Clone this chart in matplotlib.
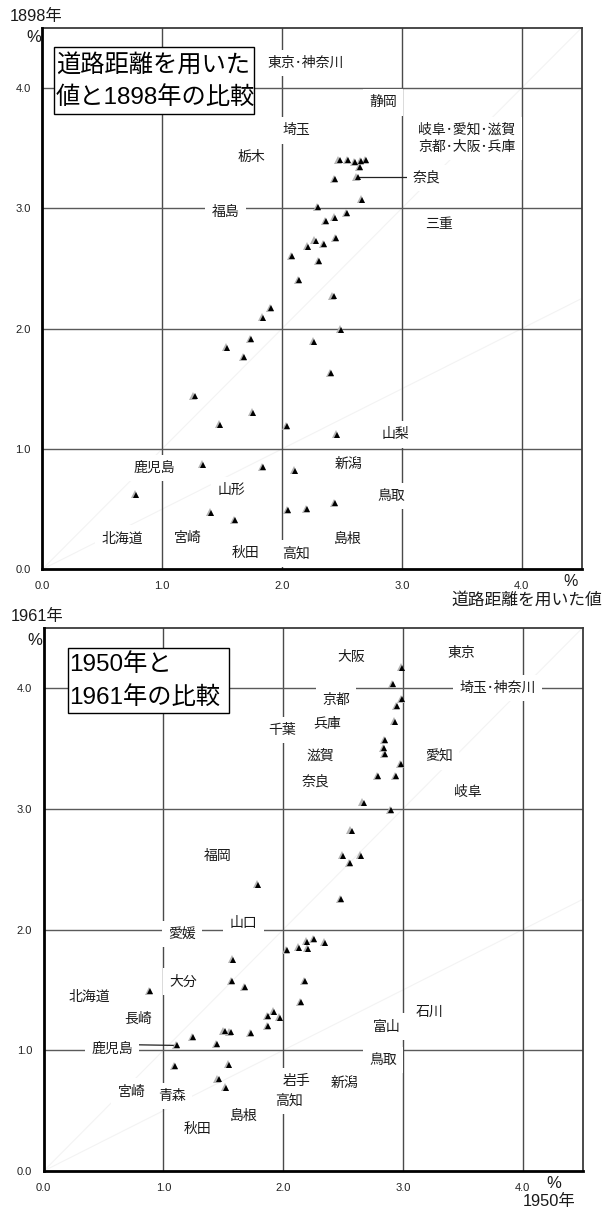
import matplotlib
matplotlib.use("Agg")
import matplotlib.pyplot as plt
from matplotlib import transforms
from matplotlib.patches import Rectangle

plt.rcParams['font.family'] = ['Liberation Sans', 'Noto Sans CJK JP']

# ---- data: 1898 comparison (x: road-distance based share, y: 1898 share, %) ----
road_x = [2.48, 2.55, 2.61, 2.66, 2.70, 2.65, 2.44, 2.63, 2.67, 2.30,
          2.54, 2.44, 2.37, 2.45, 2.28, 2.35, 2.22, 2.08, 2.31, 2.14,
          2.43, 1.91, 1.84, 2.49, 1.74, 2.27, 1.54, 1.68, 2.41, 1.27,
          1.76, 1.48, 2.04, 2.46, 1.34, 1.84, 2.11, 0.78, 1.41, 2.05,
          2.21, 2.44, 1.61]
y1898 = [3.40, 3.40, 3.38, 3.39, 3.40, 3.34, 3.24, 3.26, 3.07, 3.01,
         2.96, 2.92, 2.89, 2.75, 2.73, 2.70, 2.68, 2.60, 2.56, 2.40,
         2.27, 2.17, 2.09, 1.99, 1.91, 1.89, 1.84, 1.76, 1.63, 1.44,
         1.30, 1.20, 1.19, 1.12, 0.87, 0.85, 0.82, 0.62, 0.47, 0.49,
         0.50, 0.55, 0.41]

# ---- data: 1950 vs 1961 (%) ----
y1950 = [2.99, 2.92, 2.99, 2.95, 2.93, 2.85, 2.84, 2.85, 2.98, 2.79,
         2.94, 2.67, 2.90, 2.57, 2.50, 2.65, 2.56, 2.48, 1.79, 2.03,
         2.13, 2.20, 2.21, 2.26, 2.35, 1.58, 1.57, 1.68, 0.89, 2.18,
         2.15, 1.92, 1.87, 1.97, 1.87, 1.25, 1.51, 1.56, 1.73, 1.11,
         1.45, 1.10, 1.55, 1.46, 1.52]
y1961 = [4.17, 4.03, 3.91, 3.85, 3.72, 3.57, 3.50, 3.45, 3.37, 3.27,
         3.27, 3.05, 2.99, 2.82, 2.61, 2.61, 2.55, 2.25, 2.37, 1.83,
         1.85, 1.90, 1.84, 1.92, 1.89, 1.75, 1.57, 1.52, 1.49, 1.57,
         1.40, 1.32, 1.28, 1.27, 1.20, 1.11, 1.16, 1.15, 1.14, 1.04,
         1.05, 0.87, 0.88, 0.76, 0.69]

tick_values = [0, 1, 2, 3, 4]
tick_labels = ['0.0', '1.0', '2.0', '3.0', '4.0']

# prefecture names
top_names = ['東京･神奈川', '静岡', '岐阜･愛知･滋賀\n京都･大阪･兵庫', '埼玉', '栃木',
             '福島', '奈良', '三重', '山梨', '新潟', '鳥取', '島根', '高知', '秋田',
             '宮崎', '北海道', '山形', '鹿児島']
bot_names = ['大阪', '東京', '埼玉･神奈川', '京都', '兵庫', '千葉', '滋賀', '奈良',
             '愛知', '岐阜', '福岡', '山口', '愛媛', '大分', '北海道', '長崎', '鹿児島',
             '宮崎', '青森', '秋田', '島根', '岩手', '高知', '新潟', '富山', '石川', '鳥取']

# label anchor positions (axis units)
top_label_pos = [(2.195, 4.205), (2.842, 3.88), (3.542, 3.582), (2.124, 3.647),
                 (1.741, 3.427), (1.528, 2.968), (3.208, 3.252), (3.309, 2.866),
                 (2.950, 1.121), (2.554, 0.875), (2.908, 0.607), (2.545, 0.249),
                 (2.116, 0.133), (1.699, 0.138), (1.215, 0.262), (0.665, 0.257),
                 (1.578, 0.659), (0.932, 0.841)]
bot_label_pos = [(2.565, 4.259), (3.483, 4.292), (3.792, 4.002), (2.440, 3.902),
                 (2.365, 3.703), (1.989, 3.654), (2.306, 3.441), (2.273, 3.225),
                 (3.300, 3.428), (3.542, 3.138), (1.455, 2.610), (1.669, 2.052),
                 (1.154, 1.961), (1.163, 1.568), (0.378, 1.439), (0.787, 1.259),
                 (0.570, 1.008), (0.733, 0.657), (1.071, 0.621), (1.284, 0.345),
                 (1.672, 0.458), (2.112, 0.746), (2.048, 0.580), (2.515, 0.732),
                 (2.866, 1.196), (3.225, 1.315), (2.832, 0.920)]

W, H = 609, 1209
fig = plt.figure(figsize=(W / 100, H / 100), dpi=100)
fig.patch.set_facecolor('white')

TXT = '#1a1a1a'
JP = ['Liberation Sans', 'Noto Sans CJK JP']


def px_axes(left, top, right, bottom):
    return fig.add_axes([left / W, 1 - bottom / H, (right - left) / W, (bottom - top) / H])


def draw_panel(ax, xs, ys, names, positions, title, box, title_x, title_ys, leaders):
    ax.set_xlim(0, 4.5)
    ax.set_ylim(0, 4.5)
    for v in (1, 2, 3, 4):
        ax.axvline(v, color='#4a4a4a', lw=1.0, zorder=1)
        ax.axhline(v, color='#5a5a5a', lw=1.0, zorder=1)
    # faint reference rays through the origin
    ax.plot([0, 4.5], [0, 4.5], color='#f3f3f3', lw=0.8, zorder=0.5)
    ax.plot([0, 4.5], [0, 2.25], color='#f3f3f3', lw=0.8, zorder=0.5)

    for (x0, y0, x1, y1) in leaders:
        ax.plot([x0, x1], [y0, y1], color='#222222', lw=0.9, zorder=2)

    for name, (lx, ly) in zip(names, positions):
        ax.text(lx, ly, name, ha='center', va='center', fontsize=10, color=TXT,
                family=JP, linespacing=1.25, zorder=4,
                bbox=dict(boxstyle='square,pad=0.45', fc='white', ec='none'))

    shadow = transforms.offset_copy(ax.transData, fig=fig, x=-1.1, y=0.4, units='dots')
    ax.plot(xs, ys, ls='none', marker='^', ms=5.6, color='#b4b4b4', mew=0,
            transform=shadow, zorder=5)
    ax.plot(xs, ys, ls='none', marker='^', ms=4.6, color='black', mew=0, zorder=6)

    bx0, by0, bx1, by1 = box
    ax.add_patch(Rectangle((bx0, by0), bx1 - bx0, by1 - by0, fc='white', ec='black',
                           lw=1.0, zorder=7))
    for line, ty in zip(title, title_ys):
        ax.text(title_x, ty, line, ha='left', va='center', fontsize=17.5,
                color='black', family=JP, zorder=8)

    ax.set_xticks(tick_values)
    ax.set_xticklabels(tick_labels)
    ax.set_yticks(tick_values)
    ax.set_yticklabels(tick_labels)
    ax.tick_params(length=0, pad=8.4, labelsize=8, colors='#222222')
    for lab in ax.get_xticklabels() + ax.get_yticklabels():
        lab.set_family('Liberation Sans')
    for side in ('left', 'bottom'):
        ax.spines[side].set_linewidth(2.0)
        ax.spines[side].set_color('black')
    for side in ('top', 'right'):
        ax.spines[side].set_linewidth(1.3)
        ax.spines[side].set_color('#3a3a3a')
    ax.spines['left'].set_zorder(9)
    ax.spines['bottom'].set_zorder(9)


ax1 = px_axes(42.3, 27.7, 581.7, 569.3)
draw_panel(ax1, road_x, y1898, top_names, top_label_pos,
           ['道路距離を用いた', '値と1898年の比較'],
           (0.100, 3.787, 1.766, 4.341), 0.112, [4.189, 3.920],
           [(road_x[7], y1898[7], 3.06, y1898[7])])

ax2 = px_axes(43.7, 627.7, 582.7, 1171.0)
draw_panel(ax2, y1950, y1961, bot_names, bot_label_pos,
           ['1950年と', '1961年の比較'],
           (0.200, 3.792, 1.549, 4.331), 0.215, [4.192, 3.921],
           [(0.80, 1.045, y1950[39], y1961[39])])


def ftext(x, y, s, size, ha='left'):
    fig.text(x / W, 1 - y / H, s, ha=ha, va='center', fontsize=size, color=TXT, family=JP)


ftext(10, 16.7, '1898年', 11.8)
ftext(34, 37, '%', 12, ha='center')
ftext(571, 581, '%', 11.5, ha='center')
ftext(451, 600, '道路距離を用いた値', 12.1)

ftext(11, 616.7, '1961年', 11.8)
ftext(34.7, 640.7, '%', 12, ha='center')
ftext(554, 1183.3, '%', 12, ha='center')
ftext(522.7, 1201.7, '1950年', 11.8)

fig.savefig('out.png', dpi=100, facecolor='white')
